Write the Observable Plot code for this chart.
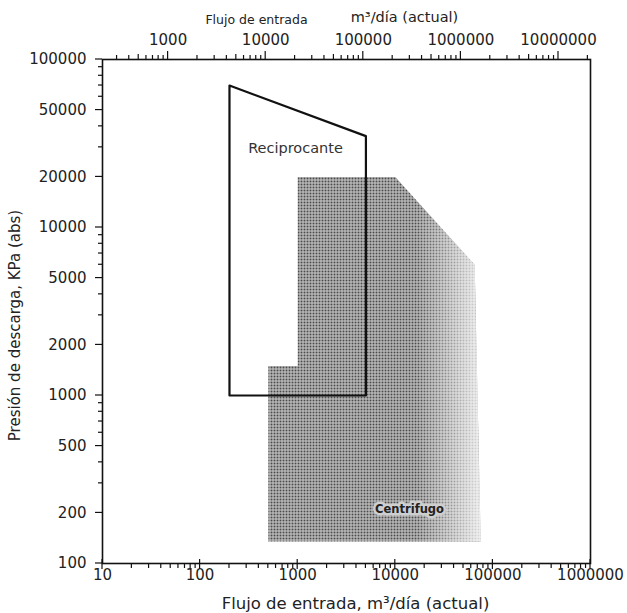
<!DOCTYPE html>
<html><head><meta charset="utf-8">
<script src="https://cdn.jsdelivr.net/npm/d3@7"></script>
<script src="https://cdn.jsdelivr.net/npm/@observablehq/plot@0.6"></script>
<style>body{margin:0;background:#fff}</style>
</head><body><div id="chart"></div>
<script>
// Axis tick labels
const bottomMajor = [10, 100, 1000, 10000, 100000, 1000000];
const topMajor = [1000, 10000, 100000, 1000000, 10000000];
const topFactor = 0.047; // top-axis value -> bottom-axis value
const yLabeled = [100, 200, 500, 1000, 2000, 5000, 10000, 20000, 50000, 100000];

// Region outlines (flow m³/día, pressure KPa)
const recipX = [200, 5000, 5000, 200, 200];
const recipY = [70000, 35000, 1000, 1000, 70000];
const centX = [500, 500, 1000, 1000, 10000, 65000, 75000, 500];
const centY = [135, 1500, 1500, 20000, 20000, 6000, 135, 135];

// Labels
const regionLabels = [
  {name: "Reciprocante", x: 950, y: 29500},
  {name: "Centrifugo", x: 14000, y: 210}
];

const minorOf = (lo, hi) => {
  const out = [];
  for (let d = lo; d < hi; d *= 10) for (let m = 2; m <= 9; m++) out.push(d * m);
  return out;
};
const bottomMinor = minorOf(10, 1000000);
const topMinorRaw = minorOf(100, 100000000);
const yMinor = minorOf(100, 100000).filter(v => !yLabeled.includes(v));

const recip = recipX.map((x, i) => ({x, y: recipY[i]}));
const cent = centX.map((x, i) => ({x, y: centY[i]}));

const defs = () => {
  const g = d3.create("svg:defs");
  const p = g.append("pattern").attr("id", "halftone").attr("patternUnits", "userSpaceOnUse")
    .attr("width", 3).attr("height", 3);
  p.append("rect").attr("width", 3).attr("height", 3).attr("fill", "#d0d0d0");
  p.append("rect").attr("width", 2).attr("height", 2).attr("fill", "#4c4c4c");
  const lg = g.append("linearGradient").attr("id", "fade").attr("x1", 0).attr("x2", 1).attr("y1", 0).attr("y2", 0);
  lg.append("stop").attr("offset", 0.7).attr("stop-color", "#fff").attr("stop-opacity", 0);
  lg.append("stop").attr("offset", 1).attr("stop-color", "#fff").attr("stop-opacity", 0.8);
  return g.node();
};

// axis tick lines drawn with the plot's own scales
const axisTicks = (index, scales, values, dims) => {
  const {width, height, marginLeft, marginRight, marginTop, marginBottom} = dims;
  const x = scales.x || d3.scaleLog([10, 1000000], [marginLeft, width - marginRight]);
  const y = scales.y || d3.scaleLog([100, 100000], [height - marginBottom, marginTop]);
  const bottom = height - marginBottom, top = marginTop, left = marginLeft;
  const g = d3.create("svg:g").attr("stroke", "#111").attr("stroke-width", 1.2).attr("fill", "none");
  const seg = (x1, y1, x2, y2) => g.append("line").attr("x1", x1).attr("y1", y1).attr("x2", x2).attr("y2", y2);
  for (const v of bottomMajor) seg(x(v), bottom - 4, x(v), bottom + 6);
  for (const v of bottomMinor) seg(x(v), bottom, x(v), bottom + 5);
  for (const v of topMajor) { const px = x(v * topFactor); if (px >= left - 0.5 && px <= width - marginRight + 0.5) seg(px, top, px, top - 8); }
  for (const v of topMinorRaw) {
    const px = x(v * topFactor);
    if (px < left || px > width - marginRight) continue;
    const m = Math.round(v / Math.pow(10, Math.floor(Math.log10(v) + 1e-9)));
    seg(px, top, px, top - (m === 5 ? 5 : 4));
  }
  for (const v of yLabeled) seg(left - 7, y(v), left, y(v));
  for (const v of yMinor) seg(left - 4, y(v), left, y(v));
  return g.node();
};

const font = "'DejaVu Sans', sans-serif";
const chart = Plot.plot({
  width: 627, height: 613,
  marginLeft: 102, marginRight: 37, marginTop: 59, marginBottom: 50,
  style: {fontFamily: font, fontSize: "15px", color: "#222", background: "#fff"},
  x: {type: "log", domain: [10, 1000000], axis: null},
  y: {type: "log", domain: [100, 100000], axis: null},
  marks: [
    defs,
    Plot.line(cent, {x: "x", y: "y", fill: "url(#halftone)", stroke: "none"}),
    Plot.line(cent, {x: "x", y: "y", fill: "url(#fade)", stroke: "none"}),
    Plot.line(recip, {x: "x", y: "y", stroke: "#111", strokeWidth: 2.2}),
    Plot.text([regionLabels[0]], {x: "x", y: "y", text: "name", fontSize: 14.5, fill: "#333"}),
    Plot.text([regionLabels[1]], {x: "x", y: "y", text: "name", fontSize: 11.5, fontWeight: "bold", fill: "#222", stroke: "#cfcfcf", strokeWidth: 5}),
    Plot.frame({stroke: "#111", strokeWidth: 1.6}),
    axisTicks,
    // tick labels
    Plot.text(bottomMajor, {x: d => d, text: d => String(d), frameAnchor: "bottom", textAnchor: "middle", lineAnchor: "middle", dy: 12, fontSize: 15, fill: "#222"}),
    Plot.text(topMajor, {x: d => d * topFactor, text: d => String(d), frameAnchor: "top", textAnchor: "middle", lineAnchor: "middle", dy: -19, fontSize: 15, fill: "#222"}),
    Plot.text(yLabeled, {y: d => d, text: d => String(d), frameAnchor: "left", textAnchor: "end", lineAnchor: "middle", dx: -16, fontSize: 15, fill: "#222"}),
    // titles
    Plot.text(["Flujo de entrada, m³/día (actual)"], {frameAnchor: "bottom-left", textAnchor: "middle", lineAnchor: "middle", dx: 253, dy: 40, fontSize: 16.5, fill: "#222"}),
    Plot.text(["Presión de descarga, KPa (abs)"], {frameAnchor: "left", textAnchor: "middle", lineAnchor: "middle", dx: -87, dy: 14, rotate: -90, fontSize: 15, fill: "#222"}),
    Plot.text(["Flujo de entrada"], {frameAnchor: "top-left", textAnchor: "middle", lineAnchor: "middle", dx: 154, dy: -40, fontSize: 12.5, fill: "#222"}),
    Plot.text(["m³/día (actual)"], {frameAnchor: "top-left", textAnchor: "middle", lineAnchor: "middle", dx: 302, dy: -42, fontSize: 14.5, fill: "#222"})
  ]
});
document.getElementById("chart").appendChild(chart);
</script>
</body></html>
